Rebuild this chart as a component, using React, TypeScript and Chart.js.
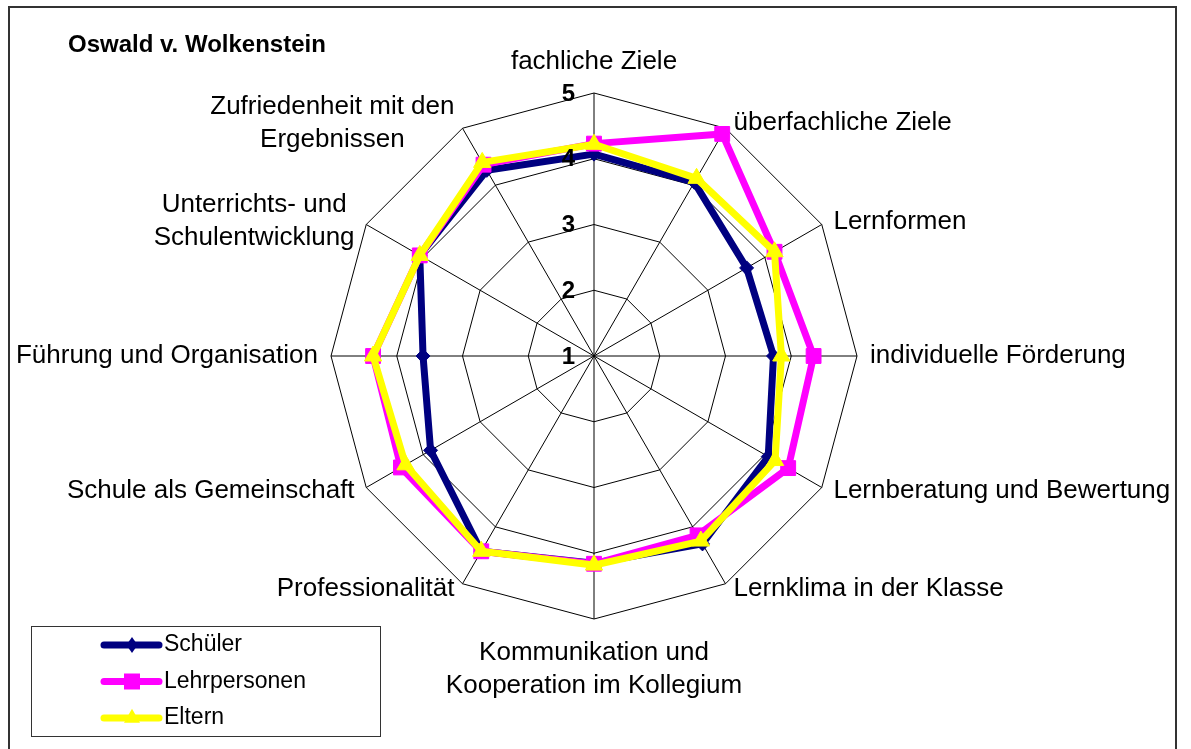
import React, { useEffect, useRef } from 'react';
import { Chart, registerables } from 'chart.js';

Chart.register(...registerables);

const chartTitle = 'Oswald v. Wolkenstein';

const categories: (string | string[])[] = [
  'fachliche Ziele',
  'überfachliche Ziele',
  'Lernformen',
  'individuelle Förderung',
  'Lernberatung und Bewertung',
  'Lernklima in der Klasse',
  ['Kommunikation und', 'Kooperation im Kollegium'],
  'Professionalität',
  'Schule als Gemeinschaft',
  'Führung und Organisation',
  ['Unterrichts- und', 'Schulentwicklung'],
  ['Zufriedenheit mit den', 'Ergebnissen'],
];

const seriesNames = ['Schüler', 'Lehrpersonen', 'Eltern'];
const schueler = [4.07, 4.05, 3.68, 3.73, 4.06, 4.3, 4.15, 4.43, 3.87, 3.6, 4.06, 4.26];
const lehrpersonen = [4.23, 4.9, 4.17, 4.34, 4.41, 4.15, 4.16, 4.43, 4.39, 4.36, 4.06, 4.36];
const eltern = [4.22, 4.12, 4.17, 3.85, 4.18, 4.25, 4.18, 4.43, 4.31, 4.36, 4.06, 4.4];
const tickValues = [1, 2, 3, 4, 5];

const FONT = '"Liberation Sans", Arial, Helvetica, sans-serif';
const colors = ['#000080', '#FF00FF', '#FFFF00'];
const styles = ['rectRot', 'rect', 'triangle'];

function drawMarker(ctx: CanvasRenderingContext2D, style: string, x: number, y: number, r: number, color: string) {
  ctx.save();
  ctx.fillStyle = color;
  ctx.beginPath();
  if (style === 'rectRot') {
    ctx.moveTo(x, y - r * 1.15);
    ctx.lineTo(x + r * 0.8, y);
    ctx.lineTo(x, y + r * 1.15);
    ctx.lineTo(x - r * 0.8, y);
  } else if (style === 'rect') {
    ctx.rect(x - r, y - r, 2 * r, 2 * r);
  } else {
    ctx.moveTo(x, y - r * 1.15);
    ctx.lineTo(x + r, y + r * 0.6);
    ctx.lineTo(x - r, y + r * 0.6);
  }
  ctx.closePath();
  ctx.fill();
  ctx.restore();
}

const decorPlugin = {
  id: 'decor',
  afterDraw(chart: any) {
    const ctx: CanvasRenderingContext2D = chart.ctx;
    const scale = chart.scales.r;
    ctx.save();
    // outer frame
    ctx.strokeStyle = '#333';
    ctx.lineWidth = 2;
    ctx.strokeRect(9, 7, 1167, 800);

    // title
    ctx.fillStyle = '#000';
    ctx.font = `bold 24px ${FONT}`;
    ctx.textAlign = 'left';
    ctx.textBaseline = 'alphabetic';
    ctx.fillText(chartTitle, 68, 52);

    // tick labels
    ctx.textAlign = 'right';
    ctx.textBaseline = 'middle';
    tickValues.forEach((v) => {
      const d = scale.getDistanceFromCenterForValue(v);
      ctx.fillText(String(v), scale.xCenter - 19, scale.yCenter - d + 1);
    });

    // point labels
    ctx.font = `26px ${FONT}`;
    const labels = chart.data.labels as (string | string[])[];
    const n = labels.length;
    const lh = 33;
    labels.forEach((lab, i) => {
      const lines = Array.isArray(lab) ? lab : [lab];
      const rad = (2 * Math.PI * i) / n;
      const s = Math.sin(rad);
      const c = Math.cos(rad);
      const v = scale.getPointPosition(i, scale.drawingArea);
      const maxW = Math.max(...lines.map((l) => ctx.measureText(l).width));
      const H = lines.length * lh;
      let cx: number;
      let cy: number;
      if (Math.abs(s) < 0.01) {
        cx = v.x;
        if (c > 0) cy = v.y - 31 - (H - lh) / 2;
        else cy = v.y + 34 + (H - lh) / 2;
      } else {
        const gap = 10 * Math.abs(s) + 3;
        cx = s > 0 ? v.x + gap + maxW / 2 : v.x - gap - maxW / 2;
        cy = v.y - 6 * c;
      }
      ctx.textAlign = 'center';
      ctx.textBaseline = 'middle';
      lines.forEach((l, k) => {
        ctx.fillText(l, cx, cy - H / 2 + lh / 2 + k * lh);
      });
    });

    // legend
    ctx.strokeStyle = '#333';
    ctx.lineWidth = 1;
    ctx.strokeRect(31.5, 626.5, 349, 110);
    ctx.font = `23px ${FONT}`;
    ctx.textAlign = 'left';
    ctx.textBaseline = 'middle';
    chart.data.datasets.forEach((ds: any, i: number) => {
      const y = 645 + i * 36.5;
      ctx.strokeStyle = ds.borderColor;
      ctx.lineWidth = 7;
      ctx.lineCap = 'round';
      ctx.beginPath();
      ctx.moveTo(104, y);
      ctx.lineTo(159, y);
      ctx.stroke();
      drawMarker(ctx, styles[i], 132, y, i === 0 ? 7 : 8, ds.borderColor);
      ctx.fillStyle = '#000';
      ctx.fillText(ds.label, 164, y);
    });
    ctx.restore();
  },
};

export default function App() {
  const ref = useRef<HTMLCanvasElement | null>(null);
  useEffect(() => {
    if (!ref.current) return;
    const seriesData = [schueler, lehrpersonen, eltern];
    const radii = [7, 10.5, 10];
    const chart = new Chart(ref.current, {
      type: 'radar',
      data: {
        labels: categories,
        datasets: seriesNames.map((name, i) => ({
          label: name,
          data: seriesData[i],
          borderColor: colors[i],
          backgroundColor: colors[i],
          borderWidth: 7,
          fill: false,
          pointStyle: styles[i] as any,
          pointRadius: radii[i],
          pointBackgroundColor: colors[i],
          pointBorderColor: colors[i],
          pointBorderWidth: 1,
          order: 3 - i,
        })),
      },
      options: {
        responsive: false,
        animation: false,
        layout: { padding: { top: 93, left: 331, right: 334, bottom: 130 } },
        plugins: { legend: { display: false }, tooltip: { enabled: false } },
        scales: {
          r: {
            min: 1,
            max: 5,
            ticks: { display: false, stepSize: 1 },
            grid: { color: '#000', lineWidth: 1 },
            angleLines: { color: '#000', lineWidth: 1 },
            pointLabels: { display: false },
          },
        },
      },
      plugins: [decorPlugin],
    });
    return () => chart.destroy();
  }, []);
  return (
    <div style={{ position: 'absolute', left: 0, top: 0, width: 1191, height: 749, background: '#fff' }}>
      <canvas ref={ref} width={1191} height={749} style={{ width: 1191, height: 749, display: 'block' }} />
    </div>
  );
}
